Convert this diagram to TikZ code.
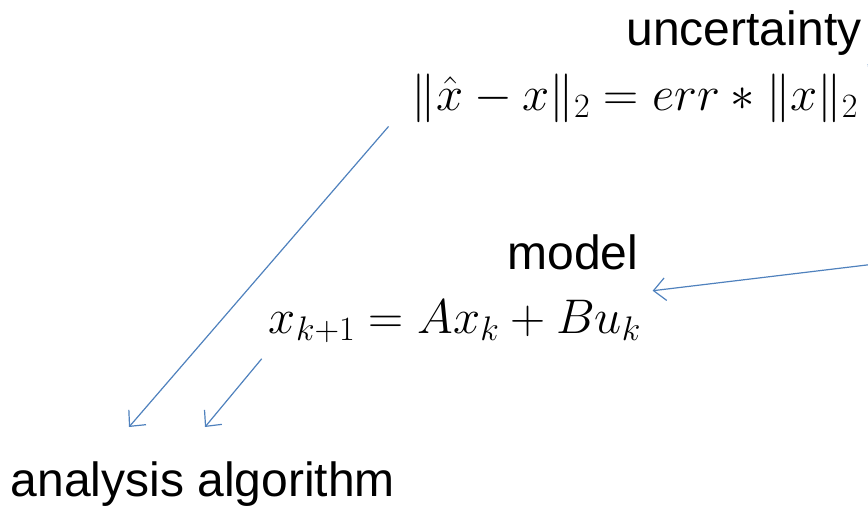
\RequirePackage{fix-cm}
\documentclass[tikz,border=0pt]{standalone}
\usepackage{fontspec}
\setmainfont{Liberation Sans}
\usepackage{amsmath}
\usetikzlibrary{arrows.meta}

\begin{document}
\begin{tikzpicture}[x=0.75pt,y=0.75pt,yscale=-1,xscale=1,
  label text/.style={font=\fontsize{36}{42}\selectfont, inner sep=0pt},
  eq text/.style={font=\fontsize{36.5}{44}\selectfont, inner sep=0pt},
  blue arrow/.style={draw={rgb, 255:red, 79; green, 129; blue, 189}, line width=0.9,
    -{Straight Barb[length=9,width=17,line width=0.9]}}]
\clip (0,0) rectangle (868,508);
% Text Node
\node (unc) at (744,45) [label text, anchor=base] {uncertainty};
% Text Node
\node (errEq) at (635,110) [eq text, anchor=base] {$\lVert\hat{x}-x\rVert_2 = err * \lVert x\rVert_2$};
% Text Node
\node (model) at (573,269) [label text, anchor=base] {model};
% Text Node
\node (modelEq) at (455,333) [eq text, anchor=base] {$x_{k+1} = Ax_k + Bu_k$};
% Text Node
\node (algo) at (203,496) [label text, anchor=base] {analysis algorithm};
% free ends
\coordinate (tipA) at (129,427);
\coordinate (tipB) at (205,427);
\coordinate (offModel) at (900,261);
\coordinate (offUnc) at (925,112);
%Straight Lines
\draw [blue arrow] ([shift={(-23,4)}]errEq.south west) -- (tipA);
%Straight Lines
\draw [blue arrow] ([shift={(-7,16)}]modelEq.south west) -- (tipB);
%Straight Lines
\draw [blue arrow] (offModel) -- ([shift={(14,21)}]model.south east);
%Straight Lines
\draw [blue arrow] (offUnc) -- ([shift={(6,9)}]unc.south east);
\end{tikzpicture}
\end{document}
